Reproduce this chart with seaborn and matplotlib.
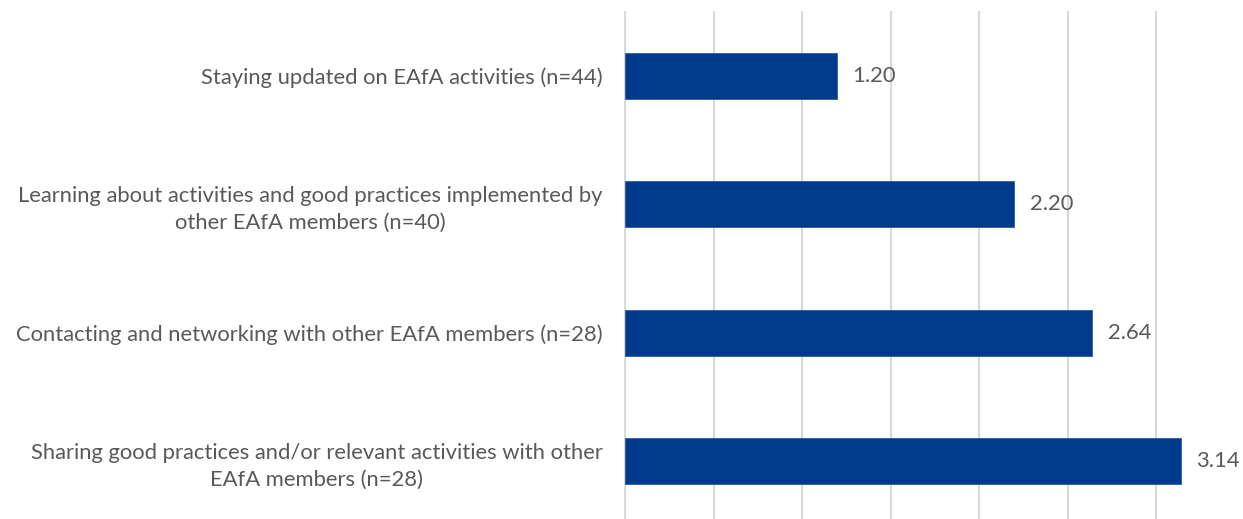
import matplotlib
matplotlib.use("Agg")
import matplotlib.pyplot as plt
import seaborn as sns
import pandas as pd

categories = [
    "Staying updated on EAfA activities (n=44)",
    "Learning about activities and good practices implemented by\nother EAfA members (n=40)",
    "Contacting and networking with other EAfA members (n=28)",
    "Sharing good practices and/or relevant activities with other\nEAfA members (n=28)",
]
values = [1.20, 2.20, 2.64, 3.14]
value_labels = ["1.20", "2.20", "2.64", "3.14"]
grid_ticks = [0, 0.5, 1.0, 1.5, 2.0, 2.5, 3.0]

sns.set_style("white")
plt.rcParams['font.family'] = ['Lato', 'DejaVu Sans']

TEXT = "#595959"
BAR = "#003A8C"
FS = 15.8

df = pd.DataFrame({"cat": categories, "val": values})

fig = plt.figure(figsize=(12.43, 5.19), dpi=100)
ax = fig.add_axes([625/1243, -6.2/519, 619.5/1243, 513.4/519])

sns.barplot(data=df, x="val", y="cat", orient="h", color=BAR, width=0.36,
            saturation=1, edgecolor="#2a5aa8", linewidth=0.6, ax=ax, zorder=3)

ax.set_xlim(0, 3.5)
ax.set_ylim(3.5, -0.5)
ax.set_xticks(grid_ticks)
ax.set_xticklabels([])
ax.tick_params(axis="x", length=0)
ax.tick_params(axis="y", length=0, pad=16, labelsize=FS, labelcolor=TEXT)
for lbl in ax.get_yticklabels():
    lbl.set_multialignment("center")
    lbl.set_linespacing(1.4)
ax.grid(axis="x", color="#d9d9d9", linewidth=1.5, zorder=0)
for gl in ax.xaxis.get_gridlines():
    gl.set_clip_on(False)
ax.set_axisbelow(True)
for s in ax.spines.values():
    s.set_visible(False)
ax.set_xlabel("")
ax.set_ylabel("")

for i, (v, t) in enumerate(zip(values, value_labels)):
    ax.annotate(t, xy=(v, i), xytext=(11, 0), textcoords="offset points",
                ha="left", va="center", fontsize=FS, color=TEXT)

fig.savefig("out.png", dpi=100)
